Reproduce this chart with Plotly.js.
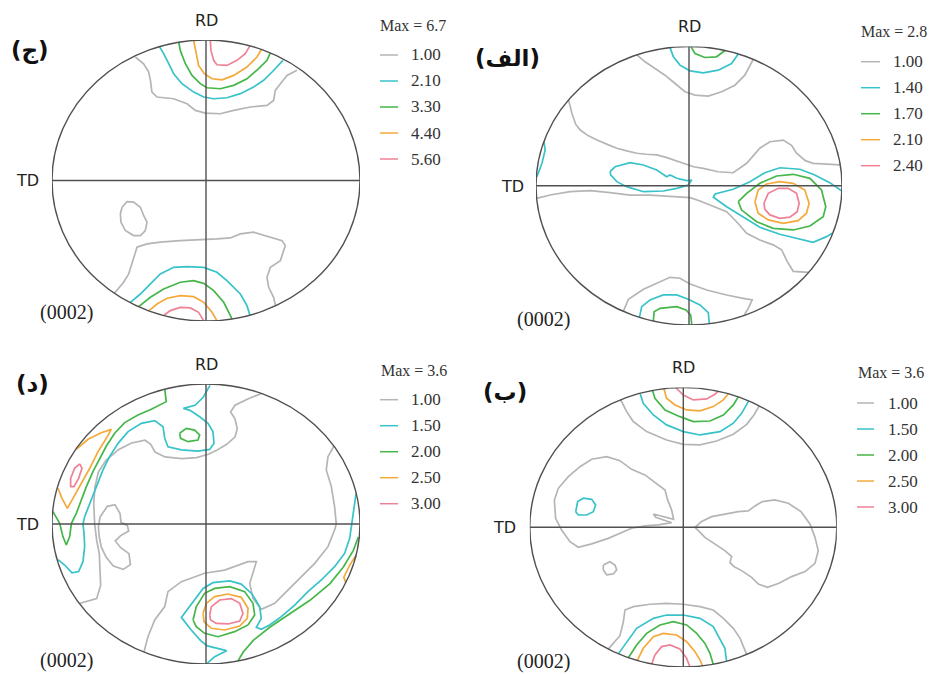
<!DOCTYPE html>
<html>
<head>
<meta charset="utf-8">
<script src="https://cdn.plot.ly/plotly-3.0.1.min.js"></script>
<style>html,body{margin:0;padding:0;background:#fff;}#plot{width:930px;height:674px;}</style>
</head>
<body>
<div id="plot"></div>
<script>
// ---------------- DATA (pole-figure coordinates, % of projection radius) ----------------
const panelLabels = ['(ج)', '(الف)', '(د)', '(ب)'];
const planeLabel = '(0002)';
const axisLabelRD = 'RD';
const axisLabelTD = 'TD';
const maxValues = ['6.7', '2.8', '3.6', '3.6'];
const levels_p1 = ['1.00', '2.10', '3.30', '4.40', '5.60'];
const levels_p2 = ['1.00', '1.40', '1.70', '2.10', '2.40'];
const levels_p3 = ['1.00', '1.50', '2.00', '2.50', '3.00'];
const levels_p4 = ['1.00', '1.50', '2.00', '2.50', '3.00'];

// Panel 1 (ج)
const p1_gray_top = [[-45.9,87.9],[-40.5,83.1],[-37.2,77.2],[-36.1,71.3],[-35.1,62.9],[-31.8,59.4],[-21.0,58.2],[-12.3,54.6],[-6.9,49.9],[-0.4,48.0],[9.3,47.5],[18.0,49.9],[28.8,52.3],[39.6,53.4],[43.9,57.0],[45.0,64.1],[48.3,68.9],[52.6,74.8],[59.1,78.4]];
const p1_cyan_top = [[-30.1,95.0],[-27.5,90.3],[-24.2,83.1],[-21.0,76.0],[-15.6,68.9],[-8.0,62.9],[-1.5,59.4],[5.0,58.2],[13.6,58.9],[22.3,61.8],[30.9,66.5],[37.4,71.3],[42.9,77.2],[47.2,81.9],[50.0,85.5]];
const p1_green_top = [[-17.7,98.4],[-16.7,92.6],[-13.4,83.1],[-9.1,74.8],[-3.7,68.9],[0.6,66.0],[9.3,65.3],[18.0,67.7],[26.6,72.4],[34.2,79.6],[39.6,85.5],[41.8,90.8]];
const p1_orange_top = [[-8.0,99.6],[-6.9,92.6],[-4.8,81.9],[-1.1,76.0],[3.9,72.4],[10.4,71.7],[18.0,74.8],[26.6,80.8],[33.1,87.9],[36.0,93.2]];
const p1_pink_top = [[2.8,99.9],[3.2,92.6],[5.0,85.5],[7.1,82.4],[13.6,81.9],[20.1,85.5],[25.5,90.3],[28.5,95.8]];
const p1_gray_loop = [[-54.5,-19.0],[-51.3,-15.0],[-47.0,-15.4],[-42.6,-19.0],[-40.5,-24.9],[-38.3,-29.7],[-39.4,-35.6],[-42.6,-39.2],[-47.0,-39.2],[-52.4,-35.6],[-55.2,-29.7],[-55.6,-23.8],[-54.5,-19.0]];
const p1_gray_bottom = [[-59.5,-80.3],[-53.5,-72.4],[-50.2,-66.5],[-48.1,-59.4],[-45.9,-52.3],[-44.8,-47.5],[-38.3,-45.1],[-29.7,-43.9],[-16.7,-42.8],[-3.7,-42.3],[7.1,-41.6],[15.8,-40.9],[22.3,-38.0],[31.0,-36.8],[41.8,-40.4],[49.4,-42.8],[51.5,-46.3],[48.3,-57.0],[41.8,-61.8],[39.6,-68.9],[40.7,-76.0],[43.9,-83.1],[45.0,-88.5]];
const p1_cyan_bottom = [[-49.1,-86.7],[-42.6,-80.8],[-36.1,-73.6],[-29.7,-66.5],[-21.0,-61.8],[-12.3,-61.3],[-1.5,-61.8],[7.1,-65.3],[13.6,-71.3],[22.3,-80.8],[26.6,-89.1],[28.5,-95.8]];
const p1_green_bottom = [[-43.7,-89.8],[-36.1,-83.1],[-27.5,-77.2],[-16.7,-72.4],[-8.0,-71.3],[-1.5,-73.2],[5.0,-78.4],[11.5,-86.7],[16.9,-98.5]];
const p1_orange_bottom = [[-37.2,-92.8],[-31.8,-87.9],[-25.3,-83.8],[-16.7,-81.9],[-8.0,-82.7],[-1.5,-86.7],[3.9,-93.8],[7.1,-99.7]];
const p1_pink_bottom = [[-27.5,-96.1],[-23.2,-92.6],[-16.7,-90.3],[-10.2,-90.7],[-4.8,-93.8],[-1.5,-99.9]];

// Panel 2 (الف)
const p2_gray_top = [[-34.1,94.0],[-28.7,89.0],[-22.2,84.2],[-15.7,79.4],[-9.1,73.4],[-2.6,67.5],[3.9,65.1],[12.6,64.4],[21.3,67.5],[30.0,72.2],[36.5,79.4],[42.0,90.7]];
const p2_cyan_top = [[-12.4,99.2],[-10.2,92.6],[-5.9,86.6],[0.7,82.5],[9.3,81.1],[19.1,83.0],[27.8,87.8],[32.2,94.6]];
const p2_green_top = [[1.3,99.9],[3.9,95.0],[10.4,92.1],[18.0,92.6],[23.5,97.1]];
const p2_cyan_left = [[-99.4,6.5],[-96.1,16.1],[-94.0,25.6],[-94.8,31.6]];
const p2_gray_upper = [[-78.7,61.5],[-76.5,51.9],[-74.0,44.0],[-71.1,40.0],[-66.0,36.0],[-60.2,32.8],[-53.0,29.5],[-47.2,26.9],[-40.0,24.8],[-34.1,23.3],[-28.0,22.6],[-21.1,22.1],[-15.5,20.5],[-10.2,18.5],[-5.0,16.5],[-1.5,14.9],[3.0,13.6],[9.3,12.5],[19.0,10.0],[28.9,9.3],[37.7,16.1],[46.3,26.9],[52.9,31.6],[61.6,32.8],[67.0,29.0],[70.3,23.3],[76.0,18.0],[81.1,16.1],[90.0,15.3],[98.8,15.0]];
const p2_gray_lower = [[-99.6,-9.1],[-90.7,-6.7],[-77.7,-4.3],[-64.6,-3.6],[-51.6,-5.0],[-38.5,-6.7],[-25.5,-6.7],[-12.4,-7.9],[0.7,-8.6],[7.2,-11.0],[15.9,-15.1],[24.6,-18.7],[31.1,-25.9],[37.7,-34.2],[46.3,-39.0],[55.0,-42.5],[60.5,-46.0],[64.0,-54.0],[68.1,-61.5],[78.3,-62.2]];
const p2_cyan_center = [[-51.6,10.1],[-48.3,13.6],[-38.5,16.5],[-29.8,14.9],[-21.1,11.3],[-16.8,8.4],[-14.6,6.5],[-12.4,7.7],[-8.0,5.3],[-1.5,3.6],[1.8,4.1],[-0.5,0.5],[-8.0,-1.9],[-16.8,-3.8],[-29.8,-4.3],[-40.7,-0.7],[-47.2,2.9],[-51.1,7.7],[-51.6,10.1]];
const p2_cyan_right = [[99.7,-3.6],[92.0,2.2],[82.2,7.7],[72.5,11.8],[59.4,12.9],[49.6,9.3],[39.8,2.9],[28.9,-2.6],[17.0,-6.0],[15.9,-8.3],[24.6,-15.1],[35.4,-22.7],[46.3,-29.9],[59.4,-34.9],[70.3,-37.8],[81.1,-40.7],[89.9,-36.6],[93.5,-34.2]];
const p2_green_right = [[32.2,-11.5],[37.7,-5.5],[46.3,1.7],[57.2,7.0],[68.1,8.2],[79.0,5.3],[86.6,-3.1],[89.4,-15.1],[87.7,-22.3],[79.0,-29.0],[68.1,-31.8],[55.0,-30.6],[44.2,-25.9],[34.4,-17.5],[32.2,-11.5]];
const p2_orange_right = [[43.1,-11.5],[45.2,-3.1],[50.7,1.2],[59.4,2.9],[68.1,1.7],[75.7,-3.1],[78.5,-12.6],[76.8,-19.8],[71.3,-25.1],[61.6,-27.0],[51.8,-24.6],[45.2,-19.8],[43.1,-11.5]];
const p2_pink_right = [[49.0,-12.6],[51.8,-5.5],[58.3,-1.9],[64.8,-1.9],[70.3,-5.5],[72.0,-12.6],[70.7,-18.7],[65.9,-22.6],[59.4,-23.4],[52.9,-21.0],[49.6,-17.0],[49.0,-12.6]];
const p2_gray_bottom = [[-42.9,-90.3],[-39.6,-81.6],[-29.8,-74.4],[-20.0,-69.7],[-12.4,-65.8],[-5.9,-66.5],[0.7,-70.6],[11.6,-74.9],[24.6,-78.5],[35.4,-80.9],[41.3,-82.1],[38.7,-88.1],[35.9,-93.3]];
const p2_cyan_bottom = [[-32.4,-94.6],[-30.9,-86.9],[-25.5,-82.1],[-16.8,-78.5],[-8.0,-78.5],[-0.5,-81.6],[7.2,-85.7],[12.6,-91.2],[13.3,-99.1]];
const p2_green_bottom = [[-23.3,-97.2],[-22.8,-90.5],[-18.9,-88.1],[-8.0,-86.9],[-2.0,-89.3],[1.1,-92.9],[1.8,-99.9]];

// Panel 3 (د)
const p3_gray_band = [[36.1,93.2],[27.5,89.5],[18.8,84.8],[16.0,80.0],[18.8,75.2],[20.3,68.1],[18.8,62.1],[13.4,56.9],[6.9,52.6],[1.5,49.8],[-6.1,47.4],[-15.8,46.7],[-26.6,47.9],[-33.1,51.4],[-35.9,56.9],[-39.6,59.8],[-48.3,57.9],[-56.9,53.1],[-64.9,45.5],[-69.9,37.1],[-72.1,26.4],[-72.9,14.5],[-72.3,0],[-71.0,-11.7],[-69.3,-21.2],[-68.8,-33.1],[-68.4,-43.8],[-71.0,-53.3],[-82.3,-56.8]];
const p3_gray_cross = [[-68.8,5.0],[-64.1,12.6],[-59.1,13.8],[-55.8,7.4],[-55.2,1.2],[-51.1,-1.0],[-50.2,-5.0],[-55.4,-8.3],[-58.9,-12.1],[-55.4,-16.9],[-50.0,-21.2],[-49.1,-29.0],[-53.7,-32.4],[-60.2,-30.0],[-64.9,-23.6],[-68.0,-16.4],[-69.3,-9.3],[-69.9,-2.1],[-68.8,5.0]];
const p3_gray_right = [[83.1,55.7],[79.2,48.1],[78.1,38.6],[81.4,26.7],[83.5,12.4],[84.6,0],[83.5,-4.3],[79.2,-16.2],[70.6,-28.1],[61.9,-37.6],[53.2,-47.1],[44.6,-56.7],[35.9,-61.0],[30.5,-53.1],[28.4,-42.4],[32.7,-26.9],[27.3,-26.9],[12.1,-32.9],[-0.9,-35.2],[-16.0,-41.2],[-24.7,-48.3],[-26.8,-59.0],[-33.3,-68.6],[-37.7,-80.5],[-40.3,-91.5]];
const p3_cyan_band = [[2.6,99.0],[-1.7,90.7],[-7.1,84.8],[-14.7,82.6],[-10.4,81.2],[-3.9,76.4],[1.3,71.9],[4.5,66.0],[5.2,57.6],[2.4,53.3],[-5.2,52.1],[-16.0,52.9],[-24.7,55.2],[-26.8,61.2],[-27.9,69.5],[-33.3,73.8],[-42.0,71.9],[-50.6,66.0],[-57.1,57.6],[-62.6,48.1],[-66.9,38.6],[-71.2,26.7],[-75.5,14.8],[-78.8,5.2],[-79.9,0],[-79.2,-6.7],[-78.8,-16.2],[-79.9,-26.9],[-82.7,-34.0],[-87.0,-34.8],[-91.8,-29.3],[-96.1,-25.5]];
const p3_cyan_right = [[97.4,21.7],[96.1,9.8],[94.4,-1.9],[93.3,-10.2],[90.0,-21.0],[83.5,-30.5],[74.9,-40.0],[66.2,-48.3],[57.6,-57.9],[48.9,-66.2],[41.3,-72.1],[35.9,-75.2],[32.7,-73.8],[35.9,-67.4],[34.8,-59.0],[29.9,-50.0],[22.9,-42.9],[15.4,-40.7],[4.5,-41.9],[-1.9,-46.0],[-9.1,-56.7],[-16.0,-66.7],[-10.0,-75.2],[-3.5,-83.3],[0.9,-87.1],[13.4,-90.5],[5.6,-94.8],[0.4,-99.9]];
const p3_green_band = [[-99.4,8.8],[-96.5,3.0],[-95.0,0.5],[-92.9,-9.0],[-90.7,-15.0],[-88.5,-9.0],[-87.4,0.5],[-84.2,7.6],[-80.9,17.1],[-77.7,26.7],[-73.4,37.4],[-69.0,46.9],[-64.7,55.7],[-59.3,64.8],[-52.8,72.4],[-44.2,77.9],[-35.5,81.9],[-25.8,87.4],[-26.8,96.3]];
const p3_green_small = [[-17.1,64.8],[-12.8,68.3],[-7.4,67.1],[-4.1,63.6],[-5.2,60.0],[-11.7,58.8],[-16.5,61.2],[-17.1,64.8]];
const p3_orange_band = [[-84.2,53.3],[-76.6,60.5],[-68.0,65.2],[-61.5,67.6],[-64.7,61.2],[-70.1,51.7],[-75.5,39.8],[-80.9,29.0],[-86.4,18.3],[-90.0,11.2],[-93.5,18.3],[-96.1,25.5]];
const p3_pink_band = [[-82.0,42.9],[-80.5,39.8],[-82.7,32.6],[-85.7,26.7],[-87.9,26.7],[-87.9,32.6],[-85.3,39.8],[-82.0,42.9]];
const p3_green_peak = [[-8.4,-68.6],[-6.3,-59.0],[-0.9,-49.5],[5.6,-46.0],[15.4,-44.8],[25.1,-48.3],[30.5,-56.7],[31.6,-65.0],[27.3,-72.1],[18.6,-76.9],[7.8,-80.5],[-0.9,-78.1],[-6.3,-73.3],[-8.4,-68.6]];
const p3_orange_peak = [[-1.9,-63.8],[0.2,-56.7],[5.6,-51.9],[14.3,-50.0],[22.9,-52.4],[27.3,-60.2],[26.8,-67.4],[21.9,-72.9],[12.1,-75.7],[3.5,-74.5],[-1.3,-69.8],[-1.9,-63.8]];
const p3_pink_peak = [[2.4,-65.0],[3.5,-59.0],[8.9,-54.3],[16.5,-53.3],[21.9,-56.7],[24.0,-63.8],[21.9,-69.3],[14.3,-71.4],[6.7,-71.0],[3.0,-68.6],[2.4,-65.0]];
const p3_green_right = [[98.9,-9.3],[95.7,-18.8],[89.2,-30.7],[80.5,-42.6],[67.5,-54.5],[54.5,-64.0],[41.6,-73.6],[30.7,-83.1],[24.2,-91.4],[20.8,-97.8]];
const p3_orange_right = [[97.4,-22.5],[93.5,-29.0],[89.5,-38.0],[90.8,-41.9]];

// Panel 4 (ب)
const p4_gray_top = [[-40.8,91.3],[-36.9,82.8],[-32.6,75.7],[-23.9,68.5],[-10.9,62.5],[0,59.4],[10.9,59.0],[21.7,61.8],[32.6,66.6],[41.3,73.7],[46.0,80.4],[49.5,86.9]];
const p4_cyan_top = [[-28.2,95.9],[-26.1,88.8],[-19.5,80.4],[-10.9,73.3],[0,68.5],[10.9,66.1],[23.9,68.5],[32.6,74.5],[38.0,81.6],[41.3,88.8],[42.6,90.5]];
const p4_green_top = [[-20.0,98.0],[-18.5,92.4],[-11.9,84.0],[-2.2,79.2],[6.5,75.7],[17.4,76.1],[26.1,80.4],[32.6,87.6],[35.8,93.4]];
const p4_orange_top = [[-12.6,99.2],[-10.9,92.4],[-5.4,87.6],[2.2,84.0],[10.9,83.3],[19.5,86.4],[26.1,91.2],[29.3,95.6]];
const p4_pink_top = [[-4.8,99.9],[0,94.7],[6.5,91.2],[15.2,91.9],[20.6,95.2],[22.8,97.4]];
const p4_gray_bottom = [[-48.9,-87.2],[-41.3,-77.6],[-39.1,-68.0],[-38.0,-59.2],[-32.6,-56.8],[-21.7,-55.1],[-10.9,-54.4],[0,-55.1],[10.9,-56.8],[19.5,-59.2],[26.1,-65.2],[32.6,-72.3],[37.0,-79.5],[41.3,-91.1]];
const p4_cyan_bottom = [[-42.3,-90.6],[-36.9,-81.9],[-30.4,-72.3],[-19.5,-65.2],[-10.9,-62.8],[0,-62.8],[10.9,-65.2],[19.5,-71.1],[23.9,-79.5],[27.1,-86.6],[28.2,-95.9]];
const p4_green_bottom = [[-35.8,-93.4],[-30.4,-84.2],[-23.9,-75.9],[-15.2,-69.9],[-6.5,-67.5],[2.2,-69.9],[8.7,-75.9],[14.1,-83.1],[17.4,-90.2],[19.5,-98.1]];
const p4_orange_bottom = [[-30.0,-95.4],[-26.1,-86.6],[-19.5,-78.3],[-13.0,-75.9],[-4.3,-77.1],[2.2,-81.9],[7.6,-89.0],[10.9,-95.0],[12.6,-99.2]];
const p4_pink_bottom = [[-20.6,-97.9],[-18.5,-91.4],[-14.1,-85.4],[-8.7,-84.2],[-2.2,-87.1],[2.2,-93.8],[4.3,-99.9]];
const p4_gray_left = [[-84.0,19.6],[-81.4,27.9],[-74.9,36.3],[-67.3,43.4],[-59.7,48.7],[-49.9,50.6],[-41.3,47.7],[-33.7,41.5],[-25.0,37.5],[-17.4,31.5],[-11.9,26.7],[-10.2,19.6],[-7.6,12.4],[-6.3,5.7],[-11.9,7.2],[-19.5,9.5],[-18.0,7.2],[-7.6,3.3],[-16.3,1.7],[-25.0,1.0],[-33.7,-0.7],[-40.2,-3.8],[-48.9,-7.9],[-59.7,-11.9],[-68.4,-14.3],[-73.8,-10.3],[-79.3,-1.9],[-83.2,6.4],[-84.0,19.6]];
const p4_gray_small = [[-52.1,-27.0],[-47.8,-24.6],[-44.5,-27.0],[-43.4,-30.5],[-45.6,-33.4],[-49.9,-34.1],[-52.1,-30.5],[-52.1,-27.0]];
const p4_cyan_small = [[-70.1,11.2],[-68.8,18.4],[-65.1,20.8],[-59.7,20.0],[-57.1,16.0],[-58.6,11.2],[-63.0,8.8],[-68.4,8.8],[-70.1,11.2]];
const p4_gray_right = [[7.6,0],[11.9,4.1],[18.5,7.6],[27.1,9.5],[35.8,11.2],[42.3,11.7],[46.7,15.3],[51.5,18.4],[59.7,19.6],[68.4,17.2],[76.7,11.2],[82.5,2.4],[85.8,-7.2],[87.9,-16.7],[85.8,-25.8],[79.3,-31.7],[70.6,-35.3],[62.3,-40.1],[54.9,-43.0],[48.9,-40.6],[44.5,-35.8],[38.0,-31.0],[33.2,-28.2],[30.4,-25.3],[31.5,-21.0],[27.1,-16.7],[20.6,-11.9],[14.1,-7.2],[9.3,-1.9],[7.6,0]];

// ---------------- STYLE / LAYOUT ----------------
const W = 930, H = 674;
const levelColors = ['#b5b5b5', '#38c2c9', '#45b649', '#f4a93a', '#ef8196'];
const outlineColor = '#505050';
const contours = [
  // [panelIndex, levelIndex, points]
  [0,0,p1_gray_top],[0,1,p1_cyan_top],[0,2,p1_green_top],[0,3,p1_orange_top],[0,4,p1_pink_top],
  [0,0,p1_gray_loop],[0,0,p1_gray_bottom],[0,1,p1_cyan_bottom],[0,2,p1_green_bottom],[0,3,p1_orange_bottom],[0,4,p1_pink_bottom],
  [1,0,p2_gray_top],[1,1,p2_cyan_top],[1,2,p2_green_top],[1,1,p2_cyan_left],[1,0,p2_gray_upper],[1,0,p2_gray_lower],
  [1,1,p2_cyan_center],[1,1,p2_cyan_right],[1,2,p2_green_right],[1,3,p2_orange_right],[1,4,p2_pink_right],
  [1,0,p2_gray_bottom],[1,1,p2_cyan_bottom],[1,2,p2_green_bottom],
  [2,0,p3_gray_band],[2,0,p3_gray_cross],[2,0,p3_gray_right],[2,1,p3_cyan_band],[2,1,p3_cyan_right],
  [2,2,p3_green_band],[2,2,p3_green_small],[2,3,p3_orange_band],[2,4,p3_pink_band],
  [2,2,p3_green_peak],[2,3,p3_orange_peak],[2,4,p3_pink_peak],[2,2,p3_green_right],[2,3,p3_orange_right],
  [3,0,p4_gray_top],[3,1,p4_cyan_top],[3,2,p4_green_top],[3,3,p4_orange_top],[3,4,p4_pink_top],
  [3,0,p4_gray_bottom],[3,1,p4_cyan_bottom],[3,2,p4_green_bottom],[3,3,p4_orange_bottom],[3,4,p4_pink_bottom],
  [3,0,p4_gray_left],[3,0,p4_gray_small],[3,1,p4_cyan_small],[3,0,p4_gray_right]
];
const levelSets = [levels_p1, levels_p2, levels_p3, levels_p4];

// pixel geometry of each projection circle (ellipse in the source image)
const panels = [
  {cx:206, cy:180.5, rx:154, ry:140.5, rd:[206.5,20], td:[27,180], plane:[66,312], tag:[30,50],
   leg:{maxX:378, maxY:25, l0:380, l1:398, tx:409, y0:55, dy:26}},
  {cx:689, cy:185.7, rx:153, ry:139.2, rd:[689.5,26], td:[512,186.7], plane:[543,319], tag:[507.5,58],
   leg:{maxX:859, maxY:31.7, l0:861, l1:880, tx:891, y0:61.7, dy:26}},
  {cx:206, cy:524, rx:154, ry:140, rd:[206.5,364], td:[27,524], plane:[66,660], tag:[32.5,383.7],
   leg:{maxX:379, maxY:370.3, l0:380, l1:398, tx:409, y0:399.7, dy:26}},
  {cx:683.3, cy:527.3, rx:153.5, ry:139.7, rd:[683.5,367.7], td:[505,527.7], plane:[543,661], tag:[504.5,392],
   leg:{maxX:856, maxY:372.7, l0:857, l1:874, tx:886, y0:403, dy:26}}
];
const px = x => x / W;
const py = y => 1 - y / H;
const axId = i => (i === 0 ? '' : String(i + 1));

const traces = contours.map(([p, l, pts]) => ({
  type: 'scatter', mode: 'lines',
  x: pts.map(d => d[0]), y: pts.map(d => d[1]),
  xaxis: 'x' + axId(p), yaxis: 'y' + axId(p),
  line: {color: levelColors[l], width: 1.7, shape: 'linear'},
  hoverinfo: 'skip', showlegend: false
}));

const layout = {
  width: W, height: H,
  margin: {l: 0, r: 0, t: 0, b: 0},
  paper_bgcolor: '#ffffff', plot_bgcolor: 'rgba(0,0,0,0)',
  showlegend: false,
  shapes: [], annotations: []
};

const serif = 'Liberation Serif, Times New Roman, serif';
const sans = 'DejaVu Sans, Arial, sans-serif';

panels.forEach((pn, i) => {
  const id = axId(i);
  layout['xaxis' + id] = {domain: [px(pn.cx - pn.rx), px(pn.cx + pn.rx)], range: [-100, 100], visible: false, fixedrange: true, anchor: 'y' + id};
  layout['yaxis' + id] = {domain: [py(pn.cy + pn.ry), py(pn.cy - pn.ry)], range: [-100, 100], visible: false, fixedrange: true, anchor: 'x' + id};
  const xr = 'x' + id, yr = 'y' + id;
  layout.shapes.push({type: 'circle', xref: xr, yref: yr, x0: -100, x1: 100, y0: -100, y1: 100, line: {color: outlineColor, width: 1.4}});
  layout.shapes.push({type: 'line', xref: xr, yref: yr, x0: -100, x1: 100, y0: 0, y1: 0, line: {color: outlineColor, width: 1.4}});
  layout.shapes.push({type: 'line', xref: xr, yref: yr, x0: 0, x1: 0, y0: -100, y1: 100, line: {color: outlineColor, width: 1.4}});

  const ann = (x, y, text, font, xanchor) => layout.annotations.push({
    xref: 'paper', yref: 'paper', x: px(x), y: py(y), text: text, showarrow: false,
    xanchor: xanchor || 'center', yanchor: 'middle', font: font
  });
  ann(pn.rd[0], pn.rd[1], axisLabelRD, {family: sans, size: 16, color: '#222'});
  ann(pn.td[0], pn.td[1], axisLabelTD, {family: sans, size: 16, color: '#222'});
  ann(pn.plane[0], pn.plane[1], planeLabel, {family: serif, size: 20, color: '#222'});
  ann(pn.tag[0], pn.tag[1], panelLabels[i], {family: sans, size: 23, color: '#111', weight: 'bold'});

  const lg = pn.leg;
  ann(lg.maxX, lg.maxY, 'Max = ' + maxValues[i], {family: serif, size: 16, color: '#333'}, 'left');
  levelSets[i].forEach((lv, k) => {
    const yy = lg.y0 + k * lg.dy;
    layout.shapes.push({type: 'line', xref: 'paper', yref: 'paper', x0: px(lg.l0), x1: px(lg.l1), y0: py(yy), y1: py(yy),
      line: {color: levelColors[k], width: 1.5}});
    ann(lg.tx, yy, lv, {family: serif, size: 17, color: '#333'}, 'left');
  });
});

Plotly.newPlot('plot', traces, layout, {staticPlot: true, displayModeBar: false});
</script>
</body>
</html>
